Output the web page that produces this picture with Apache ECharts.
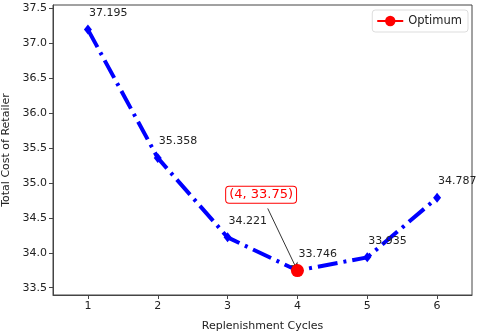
<!DOCTYPE html>
<html><head><meta charset="utf-8">
<script src="https://cdn.jsdelivr.net/npm/echarts@6/dist/echarts.min.js"></script>
<style>html,body{margin:0;padding:0;background:#fff}#c{width:480px;height:336px}</style>
</head><body><div id="c"></div>
<script>
const cycles = [1, 2, 3, 4, 5, 6];
const totalCost = [37.195, 35.358, 34.221, 33.746, 33.935, 34.787];
const yTicks = [33.5, 34.0, 34.5, 35.0, 35.5, 36.0, 36.5, 37.0, 37.5];
const xTicks = [1, 2, 3, 4, 5, 6];
const optimum = [4, 33.746];
const optimumText = '(4, 33.75)';
const annotTextAt = [3.48, 34.83];
const annotArrowFrom = [3.575, 34.635];

const FONT = 'DejaVu Sans';
const chart = echarts.init(document.getElementById('c'), null, {renderer: 'canvas'});
chart.setOption({
  animation: false,
  textStyle: {fontFamily: FONT},
  grid: {left: 53, right: 8, top: 5, bottom: 41, containLabel: false, outerBoundsMode: 'none',
         show: true, borderColor: '#444', borderWidth: 1, backgroundColor: 'transparent'},
  legend: {
    data: ['Optimum'], right: 12, top: 10, orient: 'vertical',
    itemWidth: 26, itemHeight: 13, itemGap: 4,
    backgroundColor: '#fff', borderColor: '#ddd', borderWidth: 1, borderRadius: 3,
    padding: [5, 6, 5, 4],
    textStyle: {fontFamily: FONT, fontSize: 11.5, color: '#222'}
  },
  xAxis: {
    type: 'value', min: 0.5, max: 6.5,
    name: 'Replenishment Cycles', nameLocation: 'middle', nameGap: 26,
    nameTextStyle: {fontFamily: FONT, fontSize: 11, color: '#222'},
    axisLine: {show: true, lineStyle: {color: '#444', width: 1}},
    axisTick: {show: true, length: 4, lineStyle: {color: '#444'}, customValues: xTicks},
    axisLabel: {fontFamily: FONT, fontSize: 11, color: '#222', margin: 6, customValues: xTicks, formatter: v => String(v)},
    splitLine: {show: false}
  },
  yAxis: {
    type: 'value', min: 33.396, max: 37.547,
    name: 'Total Cost of Retailer', nameLocation: 'middle', nameGap: 38,
    nameTextStyle: {fontFamily: FONT, fontSize: 11, color: '#222'},
    axisLine: {show: true, lineStyle: {color: '#444', width: 1}},
    axisTick: {show: true, length: 4, lineStyle: {color: '#444'}, customValues: yTicks},
    axisLabel: {fontFamily: FONT, fontSize: 11, color: '#222', margin: 6, customValues: yTicks, formatter: v => v.toFixed(1)},
    splitLine: {show: false}
  },
  series: [
    {
      name: 'Cost', type: 'line',
      data: cycles.map((c, i) => [c, totalCost[i]]),
      color: '#0000ff',
      lineStyle: {color: '#0000ff', width: 4, type: [20, 6, 3, 6]},
      symbol: 'diamond', symbolSize: [8, 10],
      itemStyle: {color: '#0000ff'},
      label: {
        show: true, position: 'top', distance: 6, align: 'left', offset: [1, 0],
        fontFamily: FONT, fontSize: 11, color: '#222',
        formatter: p => p.value[1].toFixed(3)
      },
      z: 2
    },
    {
      name: 'Optimum', type: 'line',
      data: [optimum],
      color: '#ff0000',
      symbol: 'circle', symbolSize: 13,
      lineStyle: {color: '#ff0000', width: 2},
      itemStyle: {color: '#ff0000'},
      z: 5,
      markLine: {
        silent: true, symbol: ['none', 'arrow'], symbolSize: [6, 8],
        lineStyle: {color: '#333', width: 1, type: 'solid'},
        label: {show: false},
        data: [[{coord: annotArrowFrom}, {coord: optimum}]]
      },
      markPoint: {
        silent: true, symbol: 'circle', symbolSize: 1,
        itemStyle: {color: 'rgba(0,0,0,0)'},
        label: {
          show: true, position: 'inside', formatter: optimumText,
          fontFamily: FONT, fontSize: 13, color: '#ff0000',
          backgroundColor: '#fff', borderColor: '#ff0000', borderWidth: 1, borderRadius: 3,
          padding: [2, 3, 1, 3]
        },
        data: [{coord: annotTextAt}]
      }
    }
  ]
});
</script></body></html>
